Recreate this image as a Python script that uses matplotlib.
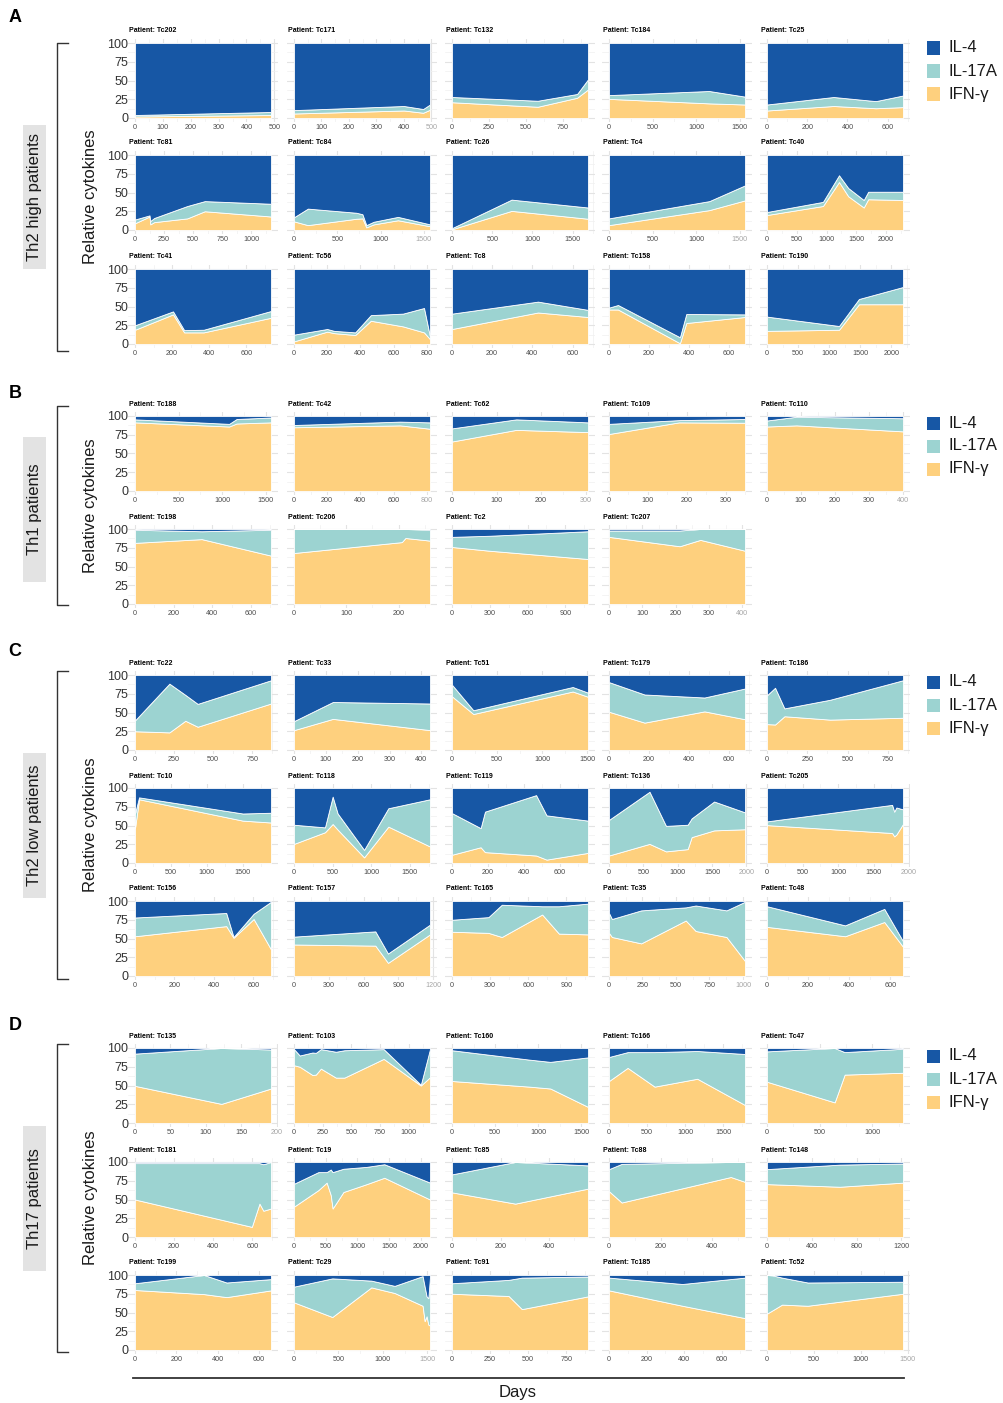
import matplotlib
matplotlib.use('Agg')
import matplotlib.pyplot as plt
from matplotlib.patches import Rectangle
from matplotlib.lines import Line2D
import numpy as np

plt.rcParams['font.family'] = ['Liberation Sans', 'DejaVu Sans']

W, H = 1004, 1403
BLUE, TEAL, YEL = '#1757a5', '#9cd3d1', '#fed07e'
cytokines = ['IL-4', 'IL-17A', 'IFN-\u03b3']

# ---- A: Th2 high ----
A_names = ['Tc202', 'Tc171', 'Tc132', 'Tc184', 'Tc25', 'Tc81', 'Tc84', 'Tc26', 'Tc4', 'Tc40',
           'Tc41', 'Tc56', 'Tc8', 'Tc158', 'Tc190']
A_days = [[0, 488], [0, 400, 470, 495], [0, 580, 846, 920], [0, 1150, 1562], [0, 331, 541, 676],
          [0, 125, 132, 165, 450, 600, 1170], [0, 160, 720, 790, 835, 920, 1200, 1570], [0, 740, 1690],
          [0, 1150, 1560], [0, 940, 1210, 1365, 1625, 1700, 2285],
          [0, 205, 265, 370, 733], [0, 200, 242, 369, 463, 657, 784, 820], [0, 428, 677],
          [0, 45, 355, 387, 681], [0, 1160, 1480, 2190]]
A_ifng = [[2, 4], [6, 10, 7, 11], [21, 15, 27, 38], [25.5, 19.5, 18], [10, 16, 13, 14.5],
          [9, 18, 7.5, 10.5, 15.5, 25, 18], [11.5, 6.5, 15, 15.5, 3.5, 7.5, 13, 5], [1, 25.5, 15],
          [6.5, 26.5, 39.5], [20, 32, 64, 45, 30, 41, 40],
          [19, 39.5, 15.5, 15.5, 35], [3.5, 16.5, 14.5, 12, 31, 23.5, 15.5, 6.5], [20, 42, 36],
          [46, 46, 1, 28, 36], [17.5, 19, 53, 53]]
A_il17 = [[2, 4], [4.5, 6, 5, 7], [7, 8, 5, 13.5], [5, 16.5, 10.5], [8, 12, 9.5, 15.5],
          [5, 1.5, 4.5, 5.5, 16.5, 13.5, 17], [5.5, 22, 8, 5.5, 3, 3.5, 4.5, 2.5], [1.5, 15, 15],
          [9, 12, 20], [4, 5.5, 9, 11, 10, 10, 11],
          [6, 4, 3, 3.5, 9], [9, 3.5, 3, 3.5, 7.5, 17, 32.5, 3.5], [20.5, 14.5, 9.5],
          [2.5, 6, 8, 12, 3.5], [19, 5, 7, 23]]
A_step = [100, 100, 250, 500, 200, 250, 500, 500, 500, 500, 200, 200, 200, 200, 500]

# ---- B: Th1 ----
B_names = ['Tc188', 'Tc42', 'Tc62', 'Tc109', 'Tc110', 'Tc198', 'Tc206', 'Tc2', 'Tc207']
B_days = [[0, 1080, 1165, 1560], [0, 640, 820], [0, 144, 305], [0, 180, 350], [0, 87, 401],
          [0, 345, 703], [0, 206, 213, 260], [0, 300, 1080], [0, 212, 274, 408]]
B_ifng = [[91.5, 86, 90, 91.5], [85, 87.5, 83], [66, 81.5, 78.5], [76, 91.5, 91], [86, 87.5, 79.5],
          [81.5, 86.5, 64.5], [68, 82.5, 88, 84.5], [76, 71, 60], [89.5, 77, 85.5, 71]]
B_il17 = [[4, 3.5, 6, 6.5], [3, 5, 8.5], [17.5, 14, 13], [13.5, 3, 5], [8, 11.5, 17.5],
          [17.5, 10.5, 34.5], [32, 17.5, 12, 14.5], [13.5, 20, 37], [8.5, 21, 14.5, 29]]
B_step = [500, 200, 100, 100, 100, 200, 100, 300, 100]

# ---- C: Th2 low ----
C_names = ['Tc22', 'Tc33', 'Tc51', 'Tc179', 'Tc186', 'Tc10', 'Tc118', 'Tc119', 'Tc136', 'Tc205',
           'Tc156', 'Tc157', 'Tc165', 'Tc35', 'Tc48']
C_days = [[0, 220, 322, 401, 870], [0, 122, 427], [0, 237, 1340, 1510], [0, 178, 478, 681],
          [0, 50, 108, 391, 843],
          [0, 56, 1500, 1893], [0, 402, 502, 567, 910, 1225, 1766], [0, 159, 183, 467, 525, 755],
          [0, 590, 830, 1145, 1203, 1530, 1980], [0, 1760, 1790, 1820, 1913],
          [0, 463, 500, 602, 690], [0, 701, 810, 1172], [0, 287, 392, 710, 842, 1071],
          [0, 22, 240, 573, 647, 877, 1015], [0, 380, 571, 662]]
C_ifng = [[25, 23.5, 39, 31, 62], [26.5, 41.5, 26.5], [71.5, 48, 78, 71], [51, 36.5, 51.5, 41],
          [34.5, 34, 45, 40.5, 43],
          [46.5, 85, 56.5, 54], [25.5, 41, 52, 44.5, 7.5, 48.5, 22], [11, 21, 14.5, 10, 4.5, 13.5],
          [10, 25.5, 15.5, 18.5, 34.5, 43.5, 45], [50.5, 40, 35.5, 38, 52],
          [53, 66.5, 51, 76, 35.5], [42, 40.5, 17.5, 55.5], [59, 57.5, 52, 82, 56.5, 55.5],
          [57.5, 52, 43.5, 74, 60, 52, 20], [65.5, 53, 72, 39]]
C_il17 = [[14.5, 65, 34.5, 30.5, 31], [12, 22.5, 35.5], [15.5, 5, 6, 5.5], [39.5, 37.5, 18.5, 41],
          [38.5, 49, 10.5, 26.5, 50],
          [19.5, 2.5, 9.5, 13], [25.5, 6.5, 36.5, 21.5, 10, 24.5, 63], [55.5, 25.5, 54, 80.5, 59, 43],
          [47.5, 69.5, 34, 32.5, 25, 38.5, 22.5], [5, 37.5, 33, 36, 19.5],
          [25, 17.5, 1, 7, 63.5], [10.5, 19, 12.5, 13], [16, 21, 43, 11, 36.5, 41],
          [26.5, 24, 44, 17.5, 34, 35.5, 79], [27.5, 14.5, 17.5, 7.5]]
C_step = [250, 100, 500, 200, 250, 500, 500, 200, 500, 500, 200, 300, 300, 250, 200]

# ---- D: Th17 ----
D_names = ['Tc135', 'Tc103', 'Tc160', 'Tc166', 'Tc47', 'Tc181', 'Tc19', 'Tc85', 'Tc88', 'Tc148',
           'Tc199', 'Tc29', 'Tc91', 'Tc185', 'Tc52']
D_days = [[0, 122, 192], [0, 50, 161, 190, 234, 365, 439, 781, 1105, 1185], [0, 896, 1140, 1577],
          [0, 245, 600, 1162, 1790], [0, 642, 737, 1291],
          [0, 597, 636, 656, 695], [0, 384, 516, 580, 610, 780, 1147, 1426, 2147], [0, 260, 559],
          [0, 49, 471, 526], [0, 650, 1214],
          [0, 334, 443, 658], [0, 432, 872, 1135, 1451, 1474, 1496, 1515, 1534], [0, 372, 459, 893],
          [0, 391, 725], [0, 60, 160, 434, 1450]]
D_ifng = [[49.5, 25.5, 46], [77, 75, 64, 64.5, 72.5, 60.5, 60.5, 85.5, 50, 61], [56, 48.5, 46, 21.5],
          [56, 73.5, 48.5, 59, 24], [55, 27.5, 64.5, 67],
          [50, 13.5, 44.5, 35, 38], [40.5, 62.5, 72.5, 56, 38, 60, 70.5, 79, 50], [59.5, 44.5, 64.5],
          [61, 46, 80, 73.5], [70.5, 67, 72.5],
          [80, 74.5, 70.5, 79.5], [63.5, 44, 83.5, 76, 59, 38.5, 45, 34, 32.5], [75, 72, 54.5, 71.5],
          [79.5, 59, 42.5], [48.5, 53, 60.5, 59, 75]]
D_il17 = [[43, 74.5, 52], [21.5, 15, 30, 29, 26, 34.5, 36.5, 13, 1, 37.5], [41, 36, 35.5, 66],
          [32, 21, 46, 37, 68], [40.5, 72.5, 30, 32],
          [48.5, 85, 54, 62, 62], [30.5, 24, 14, 34, 48.5, 31, 23, 18, 22.5], [24, 55.5, 31],
          [29.5, 51.5, 20, 26.5], [20, 29.5, 25.5],
          [9, 25.5, 19.5, 15], [21, 51.5, 9, 9.5, 39.5, 46, 26.5, 35, 65], [14, 21.5, 42, 26.5],
          [17, 29, 54], [51.5, 46.5, 36, 31, 16]]
D_step = [50, 250, 500, 500, 500, 200, 500, 200, 200, 400, 200, 500, 250, 200, 500]

# panels whose last day label is printed in a lighter grey
faded_last = ['Tc171', 'Tc84', 'Tc4', 'Tc42', 'Tc62', 'Tc110', 'Tc207', 'Tc157', 'Tc136',
              'Tc205', 'Tc35', 'Tc135', 'Tc29', 'Tc52']

# layout (pixels)
COL_X = [135, 294, 452, 609, 767]   # where day 0 sits
FILL_W, FILL_H = 136, 75

fig = plt.figure(figsize=(W / 100, H / 100), dpi=100)


def frac(x, y, w, h):
    return [x / W, 1 - (y + h) / H, w / W, h / H]


def area(col, top, name, d, g, a, step):
    x0 = COL_X[col] - FILL_W * 0.05
    ax = fig.add_axes(frac(x0, top - FILL_H * 0.05, FILL_W * 1.1, FILL_H * 1.1))
    d = np.array(d, float)
    g = np.array(g, float)
    a = np.array(a, float)
    ax.stackplot(d, g, a, 100 - g - a, colors=[YEL, TEAL, BLUE], edgecolor='white', linewidth=0.6)
    xmax = d[-1]
    ax.set_xlim(-0.05 * xmax, 1.05 * xmax)
    ax.set_ylim(-5, 105)
    ticks = np.arange(0, 1.05 * xmax + 1e-6, step)
    ax.set_xticks(ticks)
    ax.set_xticklabels([f'{t:g}' for t in ticks])
    ax.set_xticks(np.arange(step / 2, 1.05 * xmax, step), minor=True)
    ax.set_yticks([0, 25, 50, 75, 100])
    ax.set_yticks([12.5, 37.5, 62.5, 87.5], minor=True)
    ax.grid(which='major', color='#e3e3e3', lw=0.8)
    ax.grid(which='minor', color='#f0f0f0', lw=0.5)
    ax.set_axisbelow(True)
    for s in ax.spines.values():
        s.set_visible(False)
    ax.tick_params(which='both', length=0)
    ax.tick_params(axis='x', labelsize=5.2, labelcolor='#4d4d4d', pad=1.5)
    if name in faded_last:
        ax.get_xticklabels()[-1].set_color('#a6a6a6')
    if col == 0:
        ax.tick_params(axis='y', labelsize=9, labelcolor='#333333', pad=0)
    else:
        ax.tick_params(axis='y', labelleft=False)
    fig.text((x0 + 1) / W, 1 - (top - 12) / H, 'Patient: ' + name, fontsize=5,
             fontweight='bold', va='center', ha='left')


def panel(letter, group, rows, names, days, ifng, il17, steps, br, box, ycen, leg):
    for i, n in enumerate(names):
        area(i % 5, rows[i // 5], n, days[i], ifng[i], il17[i], steps[i])
    fig.text(15 / W, 1 - leg[-1] / H, letter, fontsize=13, fontweight='bold', ha='center', va='center')
    # bracket
    fig.add_artist(Line2D([68 / W, 57 / W, 57 / W, 68 / W],
                          [1 - br[0] / H, 1 - br[0] / H, 1 - br[1] / H, 1 - br[1] / H],
                          color='#333333', lw=1))
    fig.add_artist(Rectangle((23 / W, 1 - box[1] / H), 23 / W, (box[1] - box[0]) / H,
                             transform=fig.transFigure, color='#e3e3e3', lw=0))
    fig.text(34.5 / W, 1 - (box[0] + box[1]) / 2 / H, group, rotation=90, fontsize=12,
             ha='center', va='center', color='#1a1a1a')
    fig.text(90 / W, 1 - ycen / H, 'Relative cytokines', rotation=90, fontsize=12,
             ha='center', va='center', color='#1a1a1a')
    for lab, c, yc in zip(cytokines, [BLUE, TEAL, YEL], leg[:3]):
        fig.add_artist(Rectangle((927 / W, 1 - (yc + 6.5) / H), 13 / W, 13 / H,
                                 transform=fig.transFigure, color=c, lw=0))
        fig.text(949 / W, 1 - yc / H, lab, fontsize=12, va='center', ha='left', color='#1a1a1a')


panel('A', 'Th2 high patients', [43, 155, 269], A_names, A_days, A_ifng, A_il17, A_step,
      (43, 351), (125, 269), 197, (48, 71, 94, 17))
panel('B', 'Th1 patients', [416, 529], B_names, B_days, B_ifng, B_il17, B_step,
      (406, 605), (437, 582), 506, (423, 446, 469, 393))
panel('C', 'Th2 low patients', [675, 788, 901], C_names, C_days, C_ifng, C_il17, C_step,
      (671, 979), (753, 898), 825, (682, 705, 728, 652))
panel('D', 'Th17 patients', [1048, 1162, 1275], D_names, D_days, D_ifng, D_il17, D_step,
      (1044, 1352), (1126, 1271), 1198, (1056, 1079, 1102, 1026))

fig.add_artist(Line2D([133 / W, 904 / W], [1 - 1378 / H, 1 - 1378 / H], color='#333333', lw=1.3))
fig.text(518 / W, 1 - 1392 / H, 'Days', fontsize=12, ha='center', va='center', color='#1a1a1a')

fig.savefig('out.png', dpi=100)
